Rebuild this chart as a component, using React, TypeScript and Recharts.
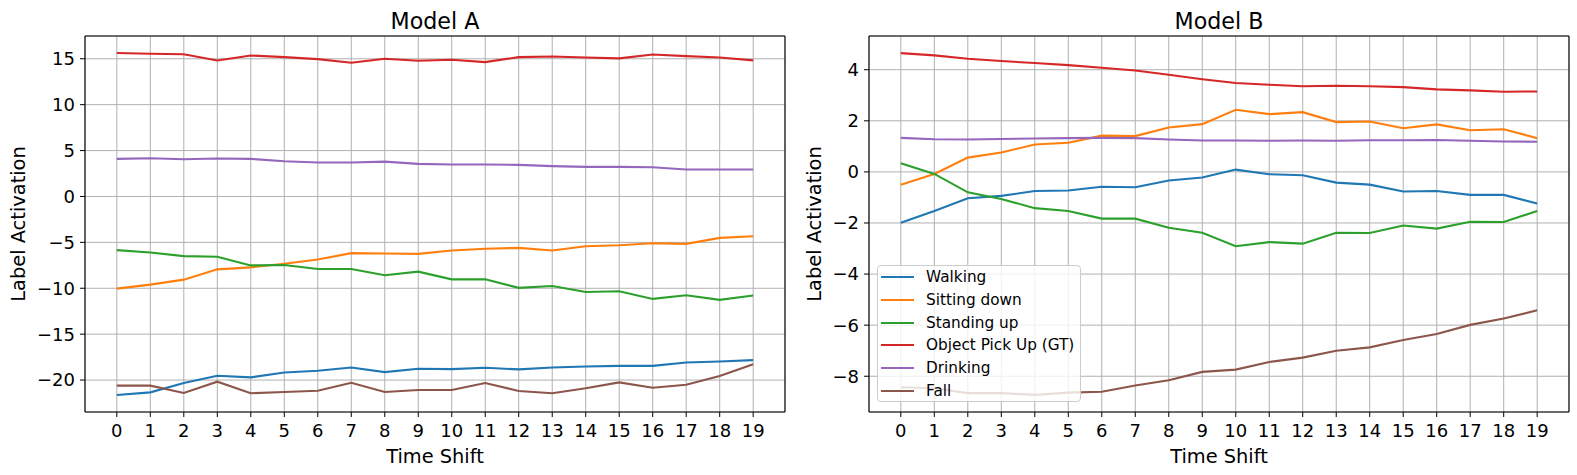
import React from 'react'
import {
    LineChart,
    Line,
    XAxis,
    YAxis,
    CartesianGrid,
    ReferenceLine,
    Legend
} from 'recharts'

const timeShifts = [0, 1, 2, 3, 4, 5, 6, 7, 8, 9, 10, 11, 12, 13, 14, 15, 16, 17, 18, 19]

const labelNames = ['Walking', 'Sitting down', 'Standing up', 'Object Pick Up (GT)', 'Drinking', 'Fall']
const labelKeys = ['walking', 'sitting', 'standing', 'pickup', 'drinking', 'fall']
const labelColors = ['#1f77b4', '#ff7f0e', '#2ca02c', '#d62728', '#9467bd', '#8c564b']

// Model A
const aWalking = [-21.62, -21.34, -20.32, -19.53, -19.71, -19.17, -18.99, -18.63, -19.13, -18.77, -18.81, -18.66, -18.84, -18.63, -18.52, -18.45, -18.45, -18.09, -17.98, -17.83]
const aSitting = [-10.04, -9.6, -9.06, -7.94, -7.73, -7.33, -6.86, -6.17, -6.21, -6.25, -5.88, -5.7, -5.6, -5.88, -5.42, -5.31, -5.09, -5.16, -4.51, -4.33]
const aStanding = [-5.85, -6.1, -6.5, -6.57, -7.51, -7.47, -7.91, -7.91, -8.59, -8.19, -9.03, -9.03, -9.96, -9.75, -10.4, -10.32, -11.16, -10.76, -11.26, -10.79]
const aPickup = [15.62, 15.54, 15.5, 14.82, 15.36, 15.18, 14.96, 14.57, 15.0, 14.78, 14.89, 14.64, 15.18, 15.25, 15.14, 15.04, 15.47, 15.29, 15.14, 14.82]
const aDrinking = [4.09, 4.17, 4.06, 4.13, 4.09, 3.84, 3.7, 3.7, 3.8, 3.55, 3.48, 3.48, 3.44, 3.3, 3.22, 3.22, 3.19, 2.93, 2.93, 2.93]
const aFall = [-20.61, -20.61, -21.41, -20.18, -21.44, -21.3, -21.16, -20.29, -21.3, -21.08, -21.08, -20.32, -21.19, -21.44, -20.9, -20.25, -20.83, -20.51, -19.57, -18.27]

// Model B
const bWalking = [-1.99, -1.53, -1.03, -0.94, -0.75, -0.73, -0.58, -0.6, -0.34, -0.22, 0.09, -0.09, -0.13, -0.42, -0.5, -0.77, -0.75, -0.9, -0.9, -1.24]
const bSitting = [-0.5, -0.08, 0.56, 0.76, 1.07, 1.14, 1.42, 1.4, 1.74, 1.87, 2.43, 2.26, 2.34, 1.95, 1.97, 1.71, 1.86, 1.63, 1.67, 1.32]
const bStanding = [0.34, -0.08, -0.8, -1.06, -1.42, -1.53, -1.83, -1.83, -2.19, -2.38, -2.91, -2.75, -2.81, -2.38, -2.39, -2.1, -2.22, -1.95, -1.96, -1.53]
const bPickup = [4.65, 4.56, 4.43, 4.34, 4.26, 4.18, 4.08, 3.97, 3.8, 3.63, 3.48, 3.41, 3.35, 3.37, 3.35, 3.32, 3.23, 3.19, 3.14, 3.15]
const bDrinking = [1.33, 1.28, 1.27, 1.29, 1.31, 1.32, 1.33, 1.32, 1.27, 1.23, 1.23, 1.22, 1.23, 1.22, 1.24, 1.24, 1.25, 1.22, 1.19, 1.18]
const bFall = [-8.43, -8.47, -8.66, -8.66, -8.73, -8.64, -8.61, -8.36, -8.16, -7.83, -7.74, -7.44, -7.27, -7.0, -6.87, -6.58, -6.35, -5.99, -5.74, -5.42]

const aYTicks = [-20, -15, -10, -5, 0, 5, 10, 15]
const bYTicks = [-8, -6, -4, -2, 0, 2, 4]
const aYDomain = [-23.48, 17.48]
const bYDomain = [-9.4, 5.32]
const xDomain = [-0.95, 19.95]

const FONT = '"DejaVu Sans", sans-serif'

function buildRows(series: number[][]) {
    return timeShifts.map((t, i) => {
        const row: Record<string, number> = { t }
        labelKeys.forEach((k, j) => { row[k] = series[j][i] })
        return row
    })
}

const rowsA = buildRows([aWalking, aSitting, aStanding, aPickup, aDrinking, aFall])
const rowsB = buildRows([bWalking, bSitting, bStanding, bPickup, bDrinking, bFall])

const fmt = (v: number) => (v < 0 ? `\u2212${-v}` : `${v}`)

function LegendBox({ payload }: any) {
    // keep the plotting order, recharts sorts the payload by name
    const items = [...(payload || [])].sort(
        (a: any, b: any) => labelNames.indexOf(a.value) - labelNames.indexOf(b.value)
    )
    return (
        <div style={{
            width: 204, height: 137, boxSizing: 'border-box',
            border: '1px solid #cccccc', borderRadius: 4,
            background: 'rgba(255,255,255,0.8)',
            fontFamily: FONT
        }}>
            {items.map((p: any) => (
                <div key={p.value} style={{ display: 'flex', alignItems: 'center', height: 22.7 }}>
                    <span style={{ display: 'inline-block', width: 33, height: 2, background: p.color, marginLeft: 3, marginRight: 12 }} />
                    <span style={{ fontSize: 15.3, color: '#000', whiteSpace: 'nowrap' }}>{p.value}</span>
                </div>
            ))}
        </div>
    )
}

interface PanelProps {
    rows: Record<string, number>[]
    width: number
    yWidth: number
    rightMargin: number
    yDomain: number[]
    yTicks: number[]
    yLabelOffset: number
    legend?: boolean
}

function Panel({ rows, width, yWidth, rightMargin, yDomain, yTicks, yLabelOffset, legend }: PanelProps) {
    const tickStyle = { fontSize: 18, fill: '#000', fontFamily: FONT }
    return (
        <LineChart
            width={width}
            height={475}
            data={rows}
            margin={{ top: 36, right: rightMargin, bottom: 0, left: 0 }}
        >
            <CartesianGrid stroke="#b0b0b0" strokeWidth={1} />
            <XAxis
                dataKey="t"
                type="number"
                domain={xDomain}
                ticks={timeShifts}
                interval={0}
                height={63}
                tick={tickStyle}
                tickSize={5}
                tickMargin={7}
                tickLine={{ stroke: '#000' }}
                axisLine={{ stroke: '#000', strokeWidth: 1.1 }}
                allowDataOverflow
                label={{ value: 'Time Shift', position: 'insideBottom', offset: 12, style: { fontSize: 19.4, fill: '#000', fontFamily: FONT } }}
            />
            <YAxis
                type="number"
                domain={yDomain}
                ticks={yTicks}
                width={yWidth}
                tick={tickStyle}
                tickFormatter={fmt}
                tickSize={5}
                tickMargin={5}
                tickLine={{ stroke: '#000' }}
                axisLine={{ stroke: '#000', strokeWidth: 1.1 }}
                allowDataOverflow
                label={{ value: 'Label Activation', angle: -90, position: 'insideLeft', offset: yLabelOffset, style: { textAnchor: 'middle', fontSize: 19.4, fill: '#000', fontFamily: FONT } }}
            />
            {labelKeys.map((k, i) => (
                <Line
                    key={k}
                    type="linear"
                    dataKey={k}
                    name={labelNames[i]}
                    stroke={labelColors[i]}
                    strokeWidth={2.1}
                    dot={false}
                    activeDot={false}
                    isAnimationActive={false}
                />
            ))}
            <ReferenceLine y={yDomain[1]} stroke="#000" strokeWidth={1.1} />
            <ReferenceLine x={xDomain[1]} stroke="#000" strokeWidth={1.1} />
            {legend && (
                <Legend
                    layout="vertical"
                    align="center"
                    verticalAlign="middle"
                    content={<LegendBox />}
                    wrapperStyle={{ left: 87, top: 265, width: 'auto', height: 'auto' }}
                />
            )}
        </LineChart>
    )
}

const titleStyle: React.CSSProperties = {
    position: 'absolute', top: 9.6, width: 700, textAlign: 'center',
    fontSize: 22.2, lineHeight: '22px', fontFamily: FONT, color: '#000'
}

export default function App() {
    return (
        <div style={{ position: 'absolute', left: 0, top: 0, width: 1577, height: 475, background: '#fff', overflow: 'hidden' }}>
            <div style={{ position: 'absolute', left: 0, top: 0 }}>
                <Panel rows={rowsA} width={800} yWidth={85} rightMargin={15} yDomain={aYDomain} yTicks={aYTicks} yLabelOffset={18} />
            </div>
            <div style={{ position: 'absolute', left: 790, top: 0 }}>
                <Panel rows={rowsB} width={787} yWidth={79} rightMargin={8} yDomain={bYDomain} yTicks={bYTicks} yLabelOffset={24} legend />
            </div>
            <div style={{ ...titleStyle, left: 85 }}>Model A</div>
            <div style={{ ...titleStyle, left: 869 }}>Model B</div>
        </div>
    )
}
